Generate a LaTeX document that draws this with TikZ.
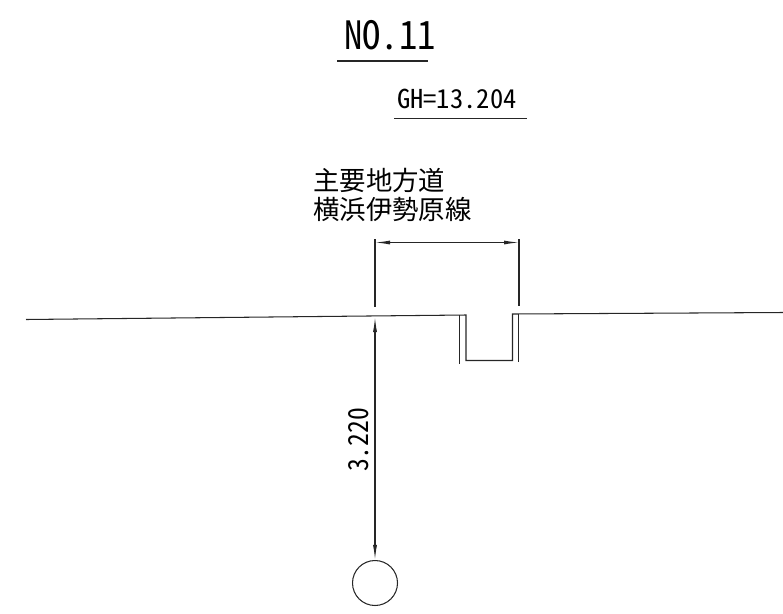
\documentclass[tikz,border=0pt]{standalone}
\usepackage{fontspec}
\setmainfont{Noto Sans CJK JP}
\newfontfamily\halffont[RawFeature=+hwid]{Noto Sans CJK JP}
\usetikzlibrary{arrows.meta}
\tikzset{
  dimtip/.style={{Latex[length=15pt,width=4pt]}-{Latex[length=15pt,width=4pt]}},
  cadtext/.style={inner sep=0pt, font=\fontsize{#1}{#1}\selectfont},
  halftext/.style={inner sep=0pt, font=\halffont\fontsize{#1}{#1}\selectfont},
  cadline/.style={line width=1.05pt, black!85}
}
\begin{document}
\begin{tikzpicture}[x=1pt,y=-1pt]
\useasboundingbox (0,0) rectangle (783,613);
% titles
\node[halftext=39, xscale=.94, anchor=base west] (tno) at (344,49.5){NO.11};
\coordinate (tnoa) at (337,61);
\coordinate (tnob) at (428,61);
\draw[cadline] (tnoa) -- (tnob);
\node[halftext=26, xscale=1.02, anchor=base west] (tgh) at (397,108.5){GH=13.204};
\coordinate (tgha) at (394,118.5);
\coordinate (tghb) at (527,118.5);
\draw[cadline] (tgha) -- (tghb);
% road name
\node[cadtext=26.4, anchor=base west] (troad) at (313,190){主要地方道};
\node[cadtext=26.4, anchor=base west] (tline) at (313,219){横浜伊勢原線};
% ground
\coordinate (g0) at (26,319.5);
\coordinate (g1) at (466,315);
\coordinate (g2) at (466,360.5);
\coordinate (g3) at (512.5,360.5);
\coordinate (g4) at (512.5,314);
\coordinate (g5) at (783,312.5);
\draw[cadline] (g0) -- (g1) -- (g2) -- (g3) -- (g4) -- (g5);
\coordinate (w1) at (459.7,315);
\coordinate (w2) at (459.7,364);
\coordinate (w3) at (518.7,314);
\coordinate (w4) at (518.7,362);
\draw[cadline] (w1) -- (w2);
\draw[cadline] (w3) -- (w4);
% width dimension
\coordinate (d1) at (375,239);
\coordinate (d2) at (375,307);
\coordinate (d3) at (519,239);
\coordinate (d4) at (519,306);
\coordinate (d5) at (375,242.5);
\coordinate (d6) at (519,242.5);
\draw[cadline] (d1) -- (d2);
\draw[cadline] (d3) -- (d4);
\draw[cadline, dimtip] (d5) -- (d6);
% depth dimension
\node[circle, draw, cadline, minimum size=45pt, inner sep=0pt] (pipe) at (375,583){};
\coordinate (g6) at (375,317);
\draw[cadline, dimtip] (g6) -- (pipe.north);
\node[halftext=27.5, rotate=90, xscale=.93, anchor=base west] (tdep) at (368,472){3.220};
\end{tikzpicture}
\end{document}
